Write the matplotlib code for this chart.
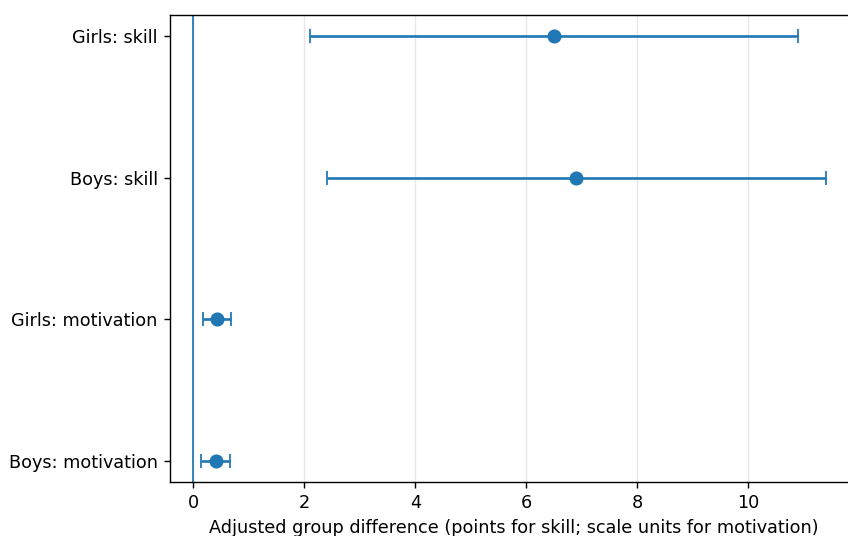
import matplotlib
matplotlib.use("Agg")
import matplotlib.pyplot as plt

labels = ["Boys: motivation", "Girls: motivation", "Boys: skill", "Girls: skill"]
estimates = [0.40, 0.42, 6.90, 6.50]
ci_low = [0.14, 0.18, 2.40, 2.10]
ci_high = [0.66, 0.68, 11.40, 10.90]

DPI = 126.7
fig = plt.figure(figsize=(848 / DPI, 536 / DPI), dpi=DPI)
ax = fig.add_axes([0.2005, 0.1007, 0.8101, 0.8719])

ypos = list(range(len(labels)))
xerr = [[e - l for e, l in zip(estimates, ci_low)],
        [h - e for e, h in zip(estimates, ci_high)]]
ax.errorbar(estimates, ypos, xerr=xerr, fmt="o", color="#1f77b4",
            capsize=4, elinewidth=1.5, markersize=7)
ax.axvline(0, color="#1f77b4", linewidth=1)
ax.set_yticks(ypos)
ax.set_yticklabels(labels)
ax.set_xlabel("Adjusted group difference (points for skill; scale units for motivation)")
ax.grid(axis="x", alpha=0.3)
ax.set_axisbelow(True)

fig.savefig("out.png", dpi=DPI)
